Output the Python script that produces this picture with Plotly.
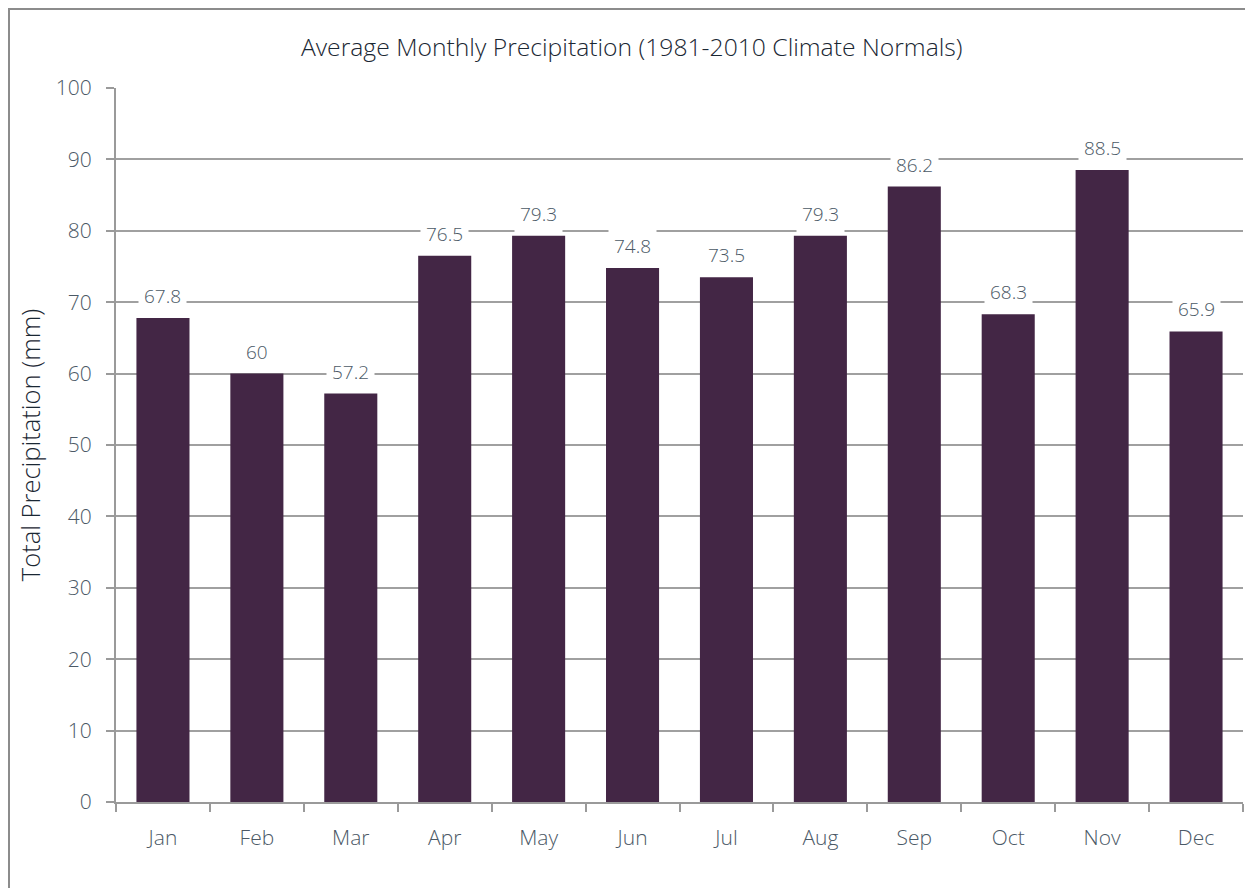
import plotly.graph_objects as go

months = ["Jan", "Feb", "Mar", "Apr", "May", "Jun", "Jul", "Aug", "Sep", "Oct", "Nov", "Dec"]
precip = [67.8, 60, 57.2, 76.5, 79.3, 74.8, 73.5, 79.3, 86.2, 68.3, 88.5, 65.9]
y_ticks = [0, 10, 20, 30, 40, 50, 60, 70, 80, 90, 100]

FONT = "Open Sans, Noto Sans, sans-serif"
TXT = "#4b5966"

W, H = 1245, 880
ML, MR, MT, MB = 108, 10, 80, 86
PW, PH = W - ML - MR, H - MT - MB

fig = go.Figure(go.Bar(
    x=months, y=precip, marker_color="#432645", marker_line_width=0,
    hoverinfo="x+y",
))

annotations = []
for m, v in zip(months, precip):
    annotations.append(dict(
        x=m, y=v, xref="x", yref="y", text=f"{v:g}", showarrow=False,
        yshift=22, bgcolor="white", borderpad=5,
        font=dict(family=FONT, size=19, color=TXT, weight=300),
    ))

fig.update_layout(
    width=W, height=H,
    margin=dict(l=ML, r=MR, t=MT, b=MB),
    paper_bgcolor="white", plot_bgcolor="white",
    bargap=0.435,
    showlegend=False,
    title=dict(text="Average Monthly Precipitation (1981-2010 Climate Normals)",
               x=0.501, xanchor="center", y=1 - 39 / H, yanchor="middle",
               font=dict(family=FONT, size=24.7, color="#1a2733", weight=300)),
    annotations=annotations,
    shapes=[dict(type="rect", xref="paper", yref="paper",
                 x0=(1 - ML) / PW, x1=1.05, y0=-0.2, y1=1 + (MT - 1) / PH,
                 line=dict(color="#8c8c8c", width=2), layer="below")],
)

fig.update_xaxes(
    type="category", tickson="boundaries", ticks="outside", ticklen=8,
    tickcolor="#9a9a9a", tickwidth=2,
    showline=True, linecolor="#9a9a9a", linewidth=2,
    showgrid=False, ticklabelstandoff=16,
    tickfont=dict(family=FONT, size=21, color=TXT, weight=300),
)
fig.update_yaxes(
    range=[0, 100], tickvals=y_ticks, ticks="outside", ticklen=8,
    tickcolor="#9a9a9a", tickwidth=2,
    showline=True, linecolor="#9a9a9a", linewidth=2,
    showgrid=True, gridcolor="#a0a0a0", gridwidth=1.5,
    zeroline=False, ticklabelstandoff=10,
    tickfont=dict(family=FONT, size=21, color=TXT, weight=300),
    title=dict(text="Total Precipitation (mm)", standoff=8,
               font=dict(family=FONT, size=25.5, color="#1a2733", weight=300)),
)

fig.write_html("out.html")
